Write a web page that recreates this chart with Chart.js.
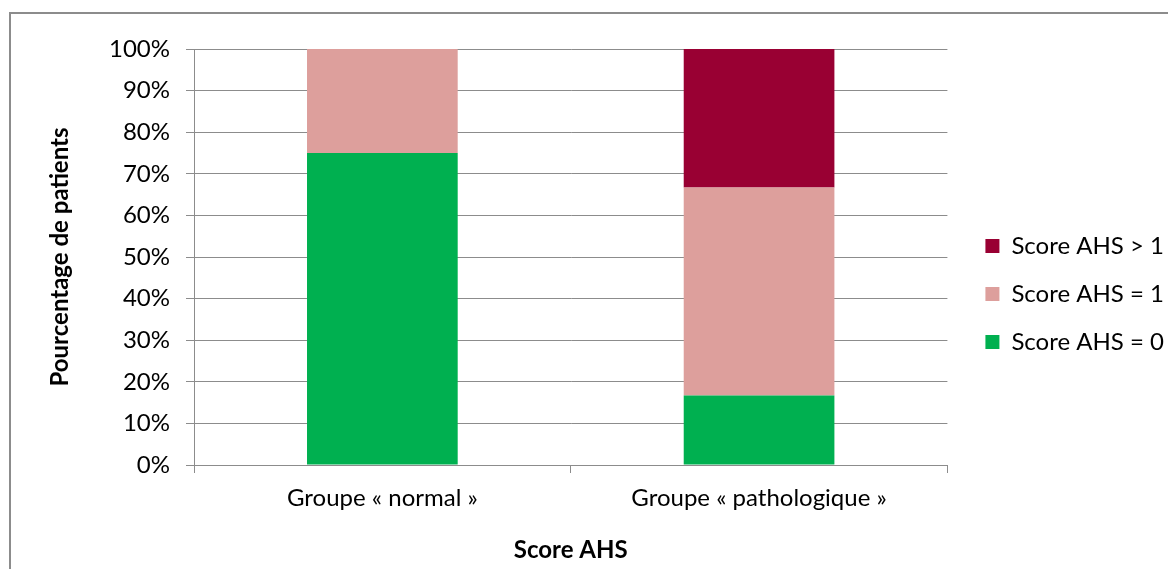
<!DOCTYPE html>
<html>
<head>
<meta charset="utf-8">
<script src="https://cdn.jsdelivr.net/npm/chart.js@4"></script>
<style>
  html, body { margin: 0; padding: 0; background: #fff; overflow: hidden; }
  #wrap { position: relative; width: 1168px; height: 569px; }
  #frame { position: absolute; left: 9px; top: 12px; width: 1200px; height: 600px;
           border-left: 2px solid #8c8c8c; border-top: 2px solid #8c8c8c; box-sizing: border-box; }
  canvas { position: absolute; left: 0; top: 0; }
</style>
</head>
<body>
<div id="wrap">
  <div id="frame"></div>
  <canvas id="ahsChart" width="1168" height="569"></canvas>
</div>
<script>
  var categories = ['Groupe « normal »', 'Groupe « pathologique »'];
  var scoreZero = [75, 16.7];
  var scoreOne = [25, 50];
  var scoreSup = [0, 33.3];
  var yTicks = [0, 10, 20, 30, 40, 50, 60, 70, 80, 90, 100];

  var fontFam = 'Lato, "Open Sans", sans-serif';
  var gridGray = '#8c8c8c';

  // nudge the legend so it sits a bit away from the plot, like the original
  var legendNudge = {
    id: 'legendNudge',
    afterLayout: function (chart) {
      var lg = chart.legend;
      if (!lg) return;
      var dx = chart.chartArea.right + 14 - lg.left;
      var dy = -13;
      lg.left += dx; lg.right += dx;
      lg.top += dy; lg.bottom += dy;
    }
  };

  var ctx = document.getElementById('ahsChart').getContext('2d');
  var ahsChart = new Chart(ctx, {
    type: 'bar',
    data: {
      labels: categories,
      datasets: [
        { label: 'Score AHS = 0', data: scoreZero, backgroundColor: '#00b050' },
        { label: 'Score AHS = 1', data: scoreOne, backgroundColor: '#dd9f9c' },
        { label: 'Score AHS > 1', data: scoreSup, backgroundColor: '#990033' }
      ]
    },
    plugins: [legendNudge],
    options: {
      responsive: false,
      animation: false,
      layout: { padding: { top: 49, right: 8, bottom: 4, left: 0 } },
      datasets: { bar: { barPercentage: 0.4, categoryPercentage: 1.0 } },
      plugins: {
        tooltip: { enabled: false },
        legend: {
          position: 'right',
          reverse: true,
          labels: {
            color: '#000',
            font: { family: fontFam, size: 24 },
            boxWidth: 14,
            boxHeight: 14,
            padding: 24
          }
        }
      },
      scales: {
        x: {
          stacked: true,
          afterFit: function (s) { s.height = 100; },
          grid: { offset: true, drawOnChartArea: false, drawTicks: true, tickLength: 8, color: gridGray },
          border: { color: gridGray },
          ticks: { color: '#000', font: { family: fontFam, size: 24 }, padding: 11, maxRotation: 0 },
          title: { display: true, text: 'Score AHS', color: '#000',
                   font: { family: fontFam, size: 24, weight: 'bold' }, padding: { top: 0, bottom: 0 } }
        },
        y: {
          stacked: true,
          min: 0,
          max: 100,
          afterFit: function (s) { s.width = 194; },
          afterBuildTicks: function (s) { s.ticks = yTicks.map(function (v) { return { value: v }; }); },
          grid: { color: gridGray, tickLength: 8 },
          border: { color: gridGray },
          ticks: { color: '#000', font: { family: fontFam, size: 24 }, padding: 16,
                   callback: function (v) { return v + '%'; } },
          title: { display: true, text: 'Pourcentage de patients', color: '#000',
                   font: { family: fontFam, size: 24, weight: 'bold' }, padding: { top: 46, bottom: 0 } }
        }
      }
    }
  });
</script>
</body>
</html>
